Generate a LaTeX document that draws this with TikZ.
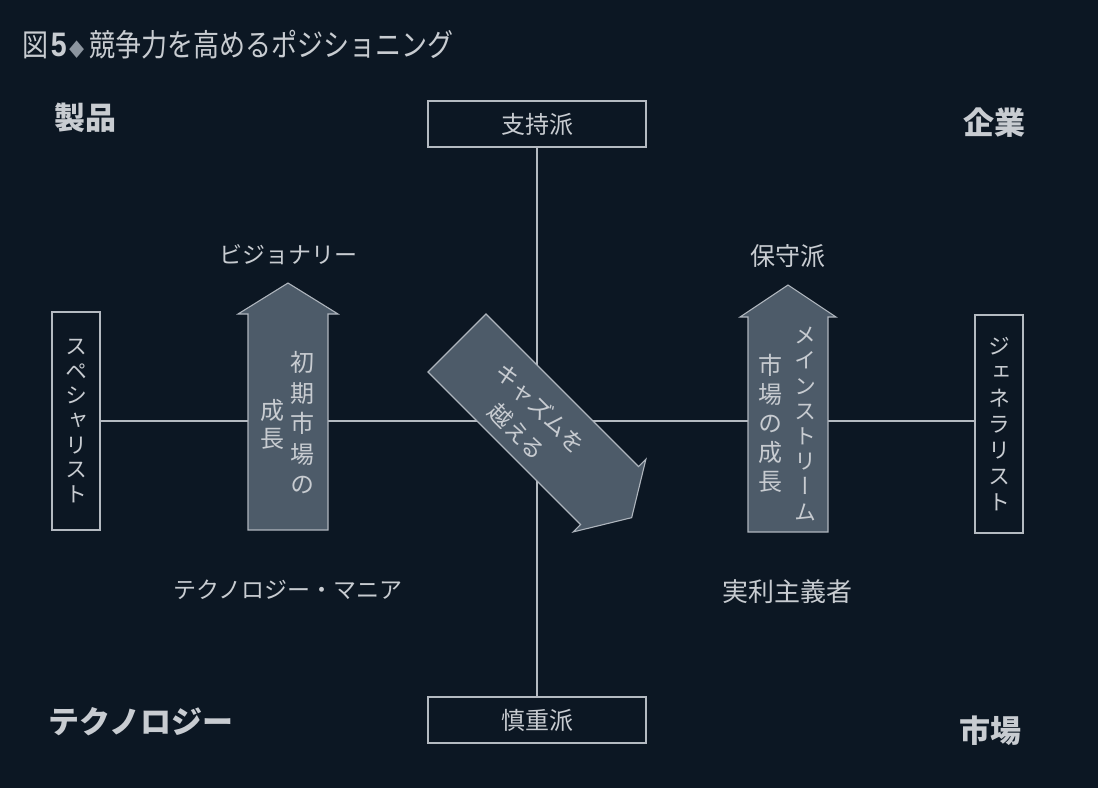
\documentclass[tikz,border=0pt]{standalone}
\usepackage{fontspec}
\setmainfont{Noto Sans CJK JP}
\newfontfamily\jpv{Noto Sans CJK JP}[RawFeature=+vert]
\newfontfamily\lsans{Liberation Sans}
\definecolor{bg}{HTML}{0C1723}
\definecolor{txt}{HTML}{C8CCD1}
\definecolor{ln}{HTML}{B4BAC1}
\definecolor{arrfill}{HTML}{4D5B69}
\definecolor{arrline}{HTML}{AEB5BD}
\definecolor{dia}{HTML}{8C959F}
\tikzset{
  lbl/.style={text=txt, inner sep=0pt, font=\fontsize{#1}{#1}\selectfont},
  corner/.style={text=txt, inner sep=0pt, font=\fontsize{31}{31}\selectfont\bfseries},
  hbox/.style={draw=ln, line width=1.1pt, text=txt, inner sep=0pt, minimum width=218pt, minimum height=46pt, font=\fontsize{24}{24}\selectfont},
  vbox/.style={draw=ln, line width=1.1pt, text=txt, inner sep=0pt, minimum width=48pt, minimum height=218pt, align=center, font=\jpv\fontsize{22}{#1}\selectfont},
  vtext/.style 2 args={text=txt, inner sep=0pt, align=center, font=\jpv\fontsize{#1}{#2}\selectfont},
  axis/.style={draw=ln, line width=1.1pt},
  bigarrow/.style={fill=arrfill, draw=arrline, line width=1.1pt, line join=miter}
}
\begin{document}
\begin{tikzpicture}[x=1pt,y=-1pt]
\fill[bg] (0,0) rectangle (1098,788);
\useasboundingbox (0,0) rectangle (1098,788);

% title
\node[anchor=west, text=txt, inner sep=0pt, font=\fontsize{31}{31}\selectfont] (title) at (22,45)
  {\scalebox{0.84}[1]{図\hspace{3pt}{\lsans\bfseries\fontsize{34}{34}\selectfont 5}\hspace{3pt}{\color{dia}\fontsize{18}{18}\selectfont ◆}\hspace{6pt}競争力を高めるポジショニング}};

% corner labels
\node[corner] (prod) at (85,118) {製品};
\node[corner] (corp) at (994,123) {企業};
\node[corner] (tech) at (141,722) {テクノロジー};
\node[corner] (mkt) at (990,731) {市場};

% boxes
\node[hbox] (sup) at (537,124) {支持派};
\node[hbox] (cau) at (537,720) {慎重派};
\node[vbox=24.7] (spec) at (76,421) {ス\\ペ\\シ\\ャ\\リ\\ス\\ト};
\node[vbox=26] (gen) at (999,424) {ジ\\ェ\\ネ\\ラ\\リ\\ス\\ト};

% axes
\draw[axis] (sup) -- (cau);
\draw[axis] (spec.east) -- (spec.east -| gen.west);

% segment labels
\node[lbl=23] (vis) at (288,255) {ビジョナリー};
\node[lbl=25] (cons) at (788,256) {保守派};
\node[lbl=23] (mania) at (288,590) {テクノロジー・マニア};
\node[lbl=26] (prag) at (787,592) {実利主義者};

% vertical arrows
\draw[bigarrow] (248,530) -- (248,314) -- (238,314) -- (288,283) -- (338,314) -- (328,314) -- (328,530) -- cycle;
\draw[bigarrow] (748,532) -- (748,317) -- (740,317) -- (788,285) -- (836,317) -- (828,317) -- (828,532) -- cycle;

% diagonal arrow
\begin{scope}[shift={(457,343)}, rotate=-45]
\draw[bigarrow] (0,-41) -- (215.7,-41) -- (215.7,-51.5) -- (247,0) -- (215.7,51.5) -- (215.7,41) -- (0,41) -- cycle;
\end{scope}

% arrow texts
\node[vtext={24}{30.5}] (l1) at (302,423) {初\\期\\市\\場\\の};
\node[vtext={24}{28}] (l2) at (272,424) {成\\長};
\node[vtext={22}{25.2}] (r1) at (805,424) {メ\\イ\\ン\\ス\\ト\\リ\\ー\\ム};
\node[vtext={24}{29}] (r2) at (770,423) {市\\場\\の\\成\\長};
\node[text=txt, inner sep=0pt, align=center, rotate=-45, font=\fontsize{23}{33}\selectfont] (cross) at (529,420) {キャズムを\\越える};
\end{tikzpicture}
\end{document}
